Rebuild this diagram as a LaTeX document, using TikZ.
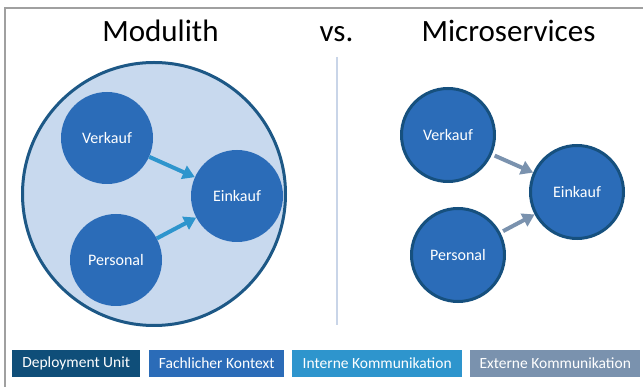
\documentclass[tikz,border=0pt]{standalone}
\usepackage{fontspec}
\setmainfont{Carlito}
\usetikzlibrary{arrows.meta}
\definecolor{unitline}{HTML}{1D5886}
\definecolor{unitfill}{HTML}{C8D9EE}
\definecolor{kontext}{HTML}{2B6CB8}
\definecolor{msline}{HTML}{16507E}
\definecolor{intern}{HTML}{2E95CD}
\definecolor{extern}{HTML}{7A92AE}
\definecolor{deploy}{HTML}{0F4E79}
\definecolor{divider}{HTML}{C9D5E8}
\definecolor{frame}{HTML}{A0A0A0}
\begin{document}
\begin{tikzpicture}[x=1pt,y=-1pt,
    title/.style={anchor=base,font=\fontsize{31}{36}\selectfont},
    ctx/.style={circle,fill=kontext,text=white,minimum size=92pt,inner sep=0pt,font=\fontsize{16}{18}\selectfont},
    svc/.style={ctx,draw=msline,line width=3pt,minimum size=93pt},
    intarrow/.style={intern,line width=4pt,-{Triangle[length=12pt,width=14pt]}},
    extarrow/.style={extern,line width=4pt,-{Triangle[length=12pt,width=14pt]}},
    legend/.style={anchor=west,text=white,minimum height=27pt,inner sep=0pt,font=\fontsize{15.5}{18}\selectfont}]
    \useasboundingbox (0,0) rectangle (643,387);
    % frame
    \draw[frame,line width=2pt] (5,387) -- (5,8) -- (643,8);
    % titles
    \node[title] (tmod) at (160.5,42) {Modulith};
    \node[title] (tvs) at (336.5,42) {vs.};
    \node[title] (tms) at (508.5,42) {Microservices};
    \draw[divider,line width=1.5pt] (337,57) -- (337,325);
    % modulith
    \draw[unitline,fill=unitfill,line width=3pt] (154,194) circle (131.5);
    \node[ctx] (mverkauf) at (107,138) {Verkauf};
    \node[ctx] (meinkauf) at (237,196) {Einkauf};
    \node[ctx] (mpersonal) at (116,260) {Personal};
    \draw[intarrow] (mverkauf) -- (meinkauf);
    \draw[intarrow] (mpersonal) -- (meinkauf);
    % microservices
    \node[svc] (sverkauf) at (448,135) {Verkauf};
    \node[svc] (seinkauf) at (577,192) {Einkauf};
    \node[svc] (spersonal) at (458,255) {Personal};
    \draw[extarrow,shorten <=3pt] (sverkauf) -- (seinkauf);
    \draw[extarrow,shorten <=3pt] (spersonal) -- (seinkauf);
    % legend
    \node[legend,fill=deploy,minimum width=128pt] (ldeploy) at (12,363.5) {\hbox to 128pt{\hss Deployment Unit\hss}};
    \node[legend,fill=kontext,minimum width=135pt] (lkontext) at (149,363.5) {\hbox to 135pt{\hss Fachlicher Kontext\hss}};
    \node[legend,fill=intern,minimum width=170pt] (lintern) at (292,363.5) {\hbox to 170pt{\hss Interne Kommunikation\hss}};
    \node[legend,fill=extern,minimum width=170pt] (lextern) at (470,363.5) {\hbox to 170pt{\hss Externe Kommunikation\hss}};
\end{tikzpicture}
\end{document}
